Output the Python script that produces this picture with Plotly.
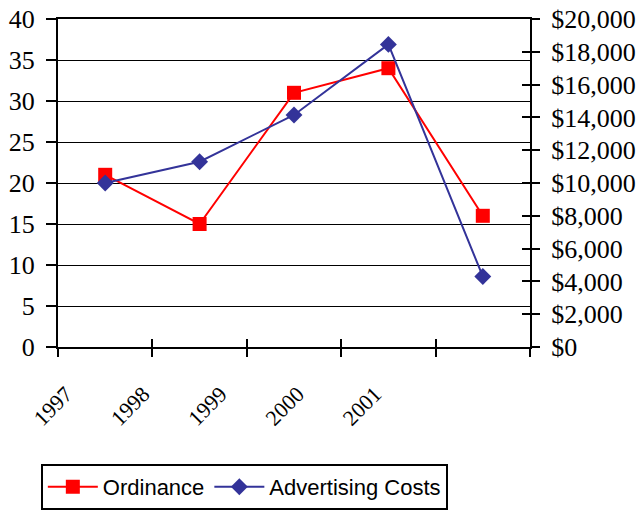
import plotly.graph_objects as go

years = ["1997", "1998", "1999", "2000", "2001"]
ordinance = [21, 15, 31, 34, 16]
advertising = [10000, 11300, 14150, 18450, 4300]

SERIF = "Liberation Serif, Times New Roman, serif"
SANS = "Liberation Sans, Arial, sans-serif"

fig = go.Figure()
fig.add_trace(go.Scatter(
    x=years, y=ordinance, name="Ordinance", mode="lines+markers",
    line=dict(color="#ff0000", width=2),
    marker=dict(symbol="square", size=14, color="#ff0000"),
    xaxis="x", yaxis="y"))
fig.add_trace(go.Scatter(
    x=years, y=advertising, name="Advertising Costs", mode="lines+markers",
    line=dict(color="#333399", width=2),
    marker=dict(symbol="diamond", size=13, color="#333399"),
    xaxis="x", yaxis="y2"))
# helper traces that carry the label axis and the inner tick marks
fig.add_trace(go.Scatter(x=years, y=[None]*5, xaxis="x2", yaxis="y",
                         showlegend=False, hoverinfo="skip"))
fig.add_trace(go.Scatter(x=years, y=[None]*5, xaxis="x3", yaxis="y3",
                         showlegend=False, hoverinfo="skip"))

fig.update_layout(
    width=638, height=516,
    margin=dict(l=58, r=108, t=19, b=169, autoexpand=False),
    paper_bgcolor="white", plot_bgcolor="white",
    showlegend=True,
    legend=dict(orientation="h", xref="container", yref="container",
                x=0.064, xanchor="left", y=0.1008, yanchor="top",
                itemwidth=50, entrywidth=0,
                bordercolor="black", borderwidth=2, bgcolor="white",
                font=dict(family=SANS, size=22, color="black")),
    xaxis=dict(type="category", categoryarray=years, range=[-0.5, 4.5],
               tickson="boundaries", ticks="outside", ticklen=8, tickwidth=2,
               tickcolor="black", showticklabels=False, showgrid=False,
               showline=True, linecolor="black", linewidth=2, mirror=True,
               zeroline=False, anchor="y"),
    xaxis2=dict(type="category", categoryarray=years, range=[-0.104, 6.006],
                overlaying="x", anchor="y", side="bottom", ticks="",
                showline=False, showgrid=False, zeroline=False,
                tickangle=-45, ticklabelstandoff=29,
                tickfont=dict(family=SERIF, size=22, color="black")),
    xaxis3=dict(type="category", categoryarray=years, range=[-0.5, 4.5],
                overlaying="x", anchor="y", tickson="boundaries", ticks="inside",
                ticklen=8, tickwidth=2, tickcolor="black", showticklabels=False,
                showline=False, showgrid=False, zeroline=False),
    yaxis=dict(range=[0, 40], dtick=5, tick0=0, ticks="outside", ticklen=10,
               tickwidth=2, tickcolor="black", showgrid=True, gridcolor="black",
               gridwidth=1, showline=True, linecolor="black", linewidth=2,
               zeroline=False, ticklabelstandoff=6,
               tickfont=dict(family=SERIF, size=26, color="black")),
    yaxis2=dict(range=[0, 20000], dtick=2000, tick0=0, overlaying="y", side="right",
                anchor="x", ticks="outside", ticklen=8, tickwidth=2, tickcolor="black",
                showgrid=False, showline=True, linecolor="black", linewidth=2,
                zeroline=False, tickprefix="$", tickformat=",d", ticklabelstandoff=6,
                tickfont=dict(family=SERIF, size=26, color="black")),
    yaxis3=dict(range=[0, 20000], dtick=2000, tick0=0, overlaying="y", side="right",
                anchor="x", ticks="inside", ticklen=8, tickwidth=2, tickcolor="black",
                showticklabels=False, showgrid=False, showline=False, zeroline=False),
)

fig.write_html("out.html", config={"displayModeBar": False},
               post_script="document.body.style.margin='0';")
